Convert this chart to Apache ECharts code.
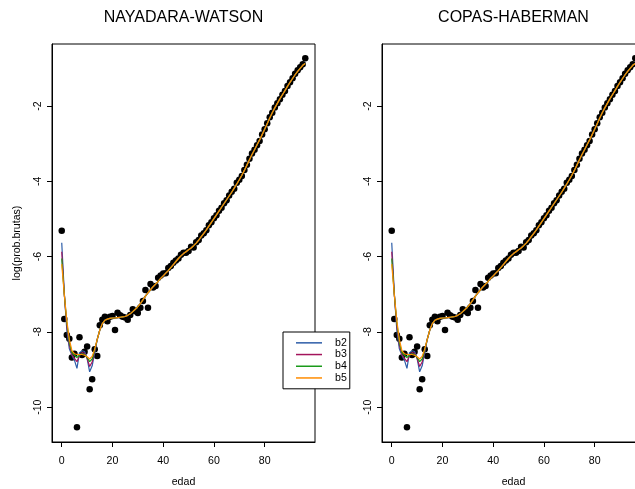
<!DOCTYPE html>
<html>
<head>
<meta charset="utf-8">
<script src="https://cdn.jsdelivr.net/npm/echarts@6/dist/echarts.min.js"></script>
<style>
html,body{margin:0;padding:0;background:#fff;}
#chart{width:635px;height:489px;}
</style>
</head>
<body>
<div id="chart"></div>
<script>
// ---- data ----
var edad = [0,1,2,3,4,5,6,7,8,9,10,11,12,13,14,15,16,17,18,19,20,21,22,23,24,25,26,27,28,29,30,31,32,33,34,35,36,37,38,39,40,41,42,43,44,45,46,47,48,49,50,51,52,53,54,55,56,57,58,59,60,61,62,63,64,65,66,67,68,69,70,71,72,73,74,75,76,77,78,79,80,81,82,83,84,85,86,87,88,89,90,91,92,93,94,95,96];

var logProbBrutas = [-5.31,-7.66,-8.08,-8.18,-8.68,-8.58,-10.53,-8.14,-8.61,-8.53,-8.39,-9.52,-9.26,-8.46,-8.64,-7.82,-7.68,-7.60,-7.72,-7.60,
  -7.58,-7.95,-7.49,-7.56,-7.60,-7.62,-7.68,-7.55,-7.40,-7.45,-7.50,-7.36,-7.18,-6.89,-7.36,-6.73,-6.82,-6.78,-6.56,-6.50,
  -6.45,-6.44,-6.30,-6.25,-6.16,-6.10,-6.05,-5.95,-5.90,-5.90,-5.85,-5.74,-5.76,-5.62,-5.56,-5.44,-5.38,-5.30,-5.17,-5.09,
  -4.98,-4.90,-4.78,-4.70,-4.58,-4.50,-4.38,-4.28,-4.20,-4.04,-3.96,-3.86,-3.70,-3.56,-3.40,-3.26,-3.16,-3.04,-2.93,-2.76,
  -2.62,-2.46,-2.30,-2.18,-2.04,-1.93,-1.82,-1.70,-1.60,-1.47,-1.37,-1.26,-1.14,-1.05,-0.97,-0.89,-0.73];

// smoothed values, ages 0-13 (differ by bandwidth)
var b2Young = [-5.63,-6.95,-7.95,-8.45,-8.62,-8.75,-8.97,-8.55,-8.50,-8.52,-8.70,-9.06,-8.90,-8.55];
var b3Young = [-5.87,-7.00,-7.85,-8.35,-8.60,-8.70,-8.79,-8.62,-8.55,-8.57,-8.70,-8.92,-8.80,-8.50];
var b4Young = [-6.05,-7.00,-7.75,-8.28,-8.55,-8.62,-8.68,-8.62,-8.58,-8.60,-8.68,-8.79,-8.72,-8.47];
var b5Young = [-6.20,-7.00,-7.70,-8.20,-8.50,-8.58,-8.60,-8.60,-8.60,-8.62,-8.66,-8.72,-8.65,-8.45];
// smoothed values, ages 14-96 (practically identical for all bandwidths)
var smoothTail = [-8.20,-7.95,-7.78,-7.69,-7.66,-7.64,-7.63,-7.63,-7.62,-7.61,-7.60,-7.59,-7.56,-7.52,-7.46,-7.40,-7.33,-7.25,-7.15,-7.05,
  -6.96,-6.88,-6.80,-6.73,-6.66,-6.58,-6.51,-6.44,-6.37,-6.29,-6.21,-6.13,-6.05,-5.98,-5.92,-5.87,-5.82,-5.77,-5.71,-5.64,
  -5.56,-5.47,-5.38,-5.29,-5.19,-5.09,-4.99,-4.89,-4.79,-4.69,-4.59,-4.49,-4.39,-4.29,-4.18,-4.07,-3.96,-3.84,-3.71,-3.57,
  -3.43,-3.29,-3.16,-3.03,-2.90,-2.76,-2.62,-2.47,-2.32,-2.18,-2.05,-1.93,-1.81,-1.70,-1.59,-1.48,-1.37,-1.27,-1.17,-1.08,
  -1.00,-0.92,-0.87];

var seriesNames = ['b2','b3','b4','b5'];
var seriesColors = ['#2D5DA8','#A3145C','#1A9A1A','#FF8C00'];
var panelTitles = ['NAYADARA-WATSON','COPAS-HABERMAN'];
var xTicks = [0,20,40,60,80];
var yTicks = [-10,-8,-6,-4,-2];

var fits = [b2Young.concat(smoothTail), b3Young.concat(smoothTail), b4Young.concat(smoothTail), b5Young.concat(smoothTail)];

function pairs(ys){ return edad.map(function(a,i){ return [a, ys[i]]; }); }

var FONT = 'Liberation Sans, Arial, Helvetica, sans-serif';
var grids = [
  {left:52, top:44, width:263, height:398, show:true, borderColor:'#000', borderWidth:1, backgroundColor:'transparent', containLabel:false, outerBoundsMode:'none'},
  {left:382, top:44, width:263, height:398, show:true, borderColor:'#000', borderWidth:1, backgroundColor:'transparent', containLabel:false, outerBoundsMode:'none'}
];
var xAxes = [], yAxes = [], series = [], titles = [];
for (var p = 0; p < 2; p++) {
  xAxes.push({
    type:'value', gridIndex:p, min:-3.84, max:99.84,
    name:'edad', nameLocation:'middle', nameGap:35,
    nameTextStyle:{color:'#000', fontSize:10.6, fontFamily:FONT},
    axisLine:{show:true, onZero:false, lineStyle:{color:'#000', width:1}}, splitLine:{show:false},
    axisTick:{show:true, inside:false, length:5, customValues:xTicks, lineStyle:{color:'#000', width:1}},
    axisLabel:{show:true, margin:14, color:'#000', fontSize:10.6, fontFamily:FONT, customValues:xTicks}
  });
  yAxes.push({
    type:'value', gridIndex:p, min:-10.924, max:-0.353,
    name: p === 0 ? 'log(prob.brutas)' : '', nameLocation:'middle', nameGap:29,
    nameTextStyle:{color:'#000', fontSize:10.6, fontFamily:FONT},
    axisLine:{show:true, onZero:false, lineStyle:{color:'#000', width:1}}, splitLine:{show:false},
    axisTick:{show:true, inside:false, length:5, customValues:yTicks, lineStyle:{color:'#000', width:1}},
    axisLabel:{show:true, rotate:90, margin:8, color:'#000', fontSize:10.6, fontFamily:FONT, customValues:yTicks}
  });
  series.push({
    type:'scatter', name:'datos', xAxisIndex:p, yAxisIndex:p,
    symbol:'circle', symbolSize:6.5, itemStyle:{color:'#000', opacity:1},
    data: pairs(logProbBrutas), silent:true
  });
  for (var k = 0; k < 4; k++) {
    series.push({
      type:'line', name:seriesNames[k], xAxisIndex:p, yAxisIndex:p,
      color: seriesColors[k], showSymbol:false, symbol:'none',
      lineStyle:{color:seriesColors[k], width:1.2},
      data: pairs(fits[k]), silent:true
    });
  }
  titles.push({
    text: panelTitles[p], left: (p === 0 ? 183.5 : 513.5) - 5, top: 5, textAlign:'center',
    textStyle:{color:'#000', fontSize:16, fontWeight:'normal', fontFamily:FONT}
  });
}

var chart = echarts.init(document.getElementById('chart'), null, {renderer:'canvas'});
chart.setOption({
  animation:false,
  backgroundColor:'#fff',
  title: titles,
  grid: grids,
  xAxis: xAxes,
  yAxis: yAxes,
  legend: {
    data: seriesNames, orient:'vertical', left:283, top:332,
    icon:'rect', itemWidth:26, itemHeight:1.5, itemGap:0,
    padding:[5,3,5,13],
    backgroundColor:'#fff', borderColor:'#000', borderWidth:1, borderRadius:0,
    selectedMode:false, z:10,
    textStyle:{color:'#000', fontSize:10.6, fontFamily:FONT, lineHeight:11.7, padding:[0,0,0,8]}
  },
  series: series
});
</script>
</body>
</html>
